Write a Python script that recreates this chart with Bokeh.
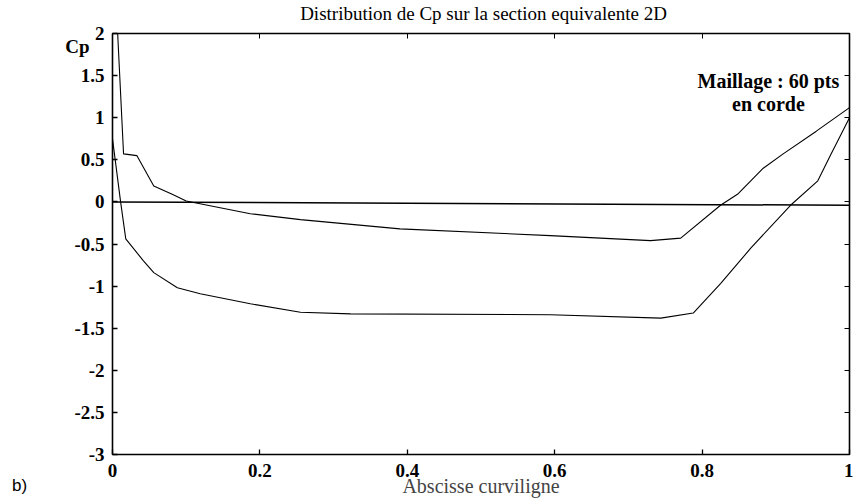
from bokeh.plotting import figure
from bokeh.models import LinearAxis, FixedTicker, Label, Range1d
from bokeh.embed import file_html
from bokeh.resources import INLINE

# --- data ---
x_ticks = [0.0, 0.2, 0.4, 0.6, 0.8, 1.0]
x_tick_labels = ["0", "0.2", "0.4", "0.6", "0.8", "1"]
y_ticks = [2.0, 1.5, 1.0, 0.5, 0.0, -0.5, -1.0, -1.5, -2.0, -2.5, -3.0]
y_tick_labels = ["2", "1.5", "1", "0.5", "0", "-0.5", "-1", "-1.5", "-2", "-2.5", "-3"]

# upper curve (pressure side)
cp_a_x = [0.007, 0.015, 0.033, 0.056, 0.081, 0.10, 0.187, 0.255, 0.39, 0.594,
          0.73, 0.771, 0.825, 0.848, 0.866, 0.883, 0.91, 0.955, 1.0]
cp_a_y = [2.0, 0.57, 0.55, 0.19, 0.09, 0.01, -0.14, -0.21, -0.32, -0.40,
          -0.46, -0.43, -0.04, 0.09, 0.25, 0.40, 0.57, 0.84, 1.12]

# lower curve (suction side)
cp_b_x = [0.0, 0.011, 0.018, 0.042, 0.056, 0.088, 0.119, 0.187, 0.255, 0.323,
          0.594, 0.744, 0.788, 0.825, 0.866, 0.92, 0.957, 0.974, 1.0]
cp_b_y = [0.75, 0.0, -0.44, -0.70, -0.84, -1.02, -1.09, -1.21, -1.31, -1.33,
          -1.34, -1.38, -1.32, -0.97, -0.55, -0.04, 0.25, 0.55, 1.0]

# zero reference line
zero_x = [0.0, 1.0]
zero_y = [0.0, -0.04]

SERIF = "Liberation Serif"

p = figure(width=853, height=501, x_range=Range1d(0, 1), y_range=Range1d(-3, 2),
           output_backend="svg", toolbar_location=None,
           min_border_left=112, min_border_right=4, min_border_top=33, min_border_bottom=47,
           background_fill_color="white", border_fill_color="white")
p.grid.visible = False
p.outline_line_color = "black"
p.outline_line_width = 1.6

p.line(zero_x, zero_y, line_color="black", line_width=1.5)
p.line(cp_a_x, cp_a_y, line_color="black", line_width=1.1)
p.line(cp_b_x, cp_b_y, line_color="black", line_width=1.1)

# bottom axis
xa = p.xaxis[0]
xa.ticker = FixedTicker(ticks=x_ticks)
xa.major_label_overrides = dict(zip(x_ticks, x_tick_labels))
xa.major_tick_in = 5
xa.major_tick_out = 0
xa.minor_tick_line_color = None
xa.axis_line_color = None
xa.major_tick_line_width = 1.3
xa.major_label_standoff = 9
xa.major_label_text_font = SERIF
xa.major_label_text_font_style = "bold"
xa.major_label_text_font_size = "19px"
xa.major_label_text_color = "black"
xa.axis_label = "Abscisse curviligne"
xa.axis_label_text_font = SERIF
xa.axis_label_text_font_style = "normal"
xa.axis_label_text_font_size = "20px"
xa.axis_label_standoff = -5

# left axis
ya = p.yaxis[0]
ya.ticker = FixedTicker(ticks=y_ticks)
ya.major_label_overrides = dict(zip(y_ticks, y_tick_labels))
ya.major_tick_in = 5
ya.major_tick_out = 0
ya.minor_tick_line_color = None
ya.axis_line_color = None
ya.major_tick_line_width = 1.3
ya.major_label_standoff = 8
ya.major_label_text_font = SERIF
ya.major_label_text_font_style = "bold"
ya.major_label_text_font_size = "19px"
ya.major_label_text_color = "black"

# mirrored inward ticks on top and right
top = LinearAxis(ticker=FixedTicker(ticks=x_ticks), major_tick_in=5, major_tick_out=0,
                 minor_tick_line_color=None, axis_line_color=None,
                 major_label_text_font_size="0px", major_label_standoff=0)
right = LinearAxis(ticker=FixedTicker(ticks=y_ticks), major_tick_in=5, major_tick_out=0,
                   minor_tick_line_color=None, axis_line_color=None,
                   major_label_text_font_size="0px", major_label_standoff=0)
p.add_layout(top, "above")
p.add_layout(right, "right")

# title, in the panel above the frame
p.add_layout(Label(x=371, y=20, x_units="screen", y_units="screen",
                   text="Distribution de Cp sur la section equivalente 2D",
                   text_align="center", text_baseline="middle", text_font=SERIF,
                   text_font_size="19px", text_color="black"), "above")

# texts inside the frame
p.add_layout(Label(x=0.89, y=1.44, text="Maillage : 60 pts", text_align="center",
                   text_baseline="middle", text_font=SERIF, text_font_style="bold",
                   text_font_size="20px", text_color="black"))
p.add_layout(Label(x=0.89, y=1.16, text="en corde", text_align="center",
                   text_baseline="middle", text_font=SERIF, text_font_style="bold",
                   text_font_size="20px", text_color="black"))

# texts outside the frame, in the left side panel
p.add_layout(Label(x=30, y=408, x_units="screen", y_units="screen", text="Cp",
                   text_align="center", text_baseline="middle", text_font=SERIF,
                   text_font_style="bold", text_font_size="19px", text_color="black"), "left")
p.add_layout(Label(x=-13, y=-31, x_units="screen", y_units="screen", text="b)",
                   text_align="center", text_baseline="middle", text_font="Liberation Sans",
                   text_font_size="17px", text_color="black"), "left")

open("out.html", "w").write(file_html(p, INLINE))
